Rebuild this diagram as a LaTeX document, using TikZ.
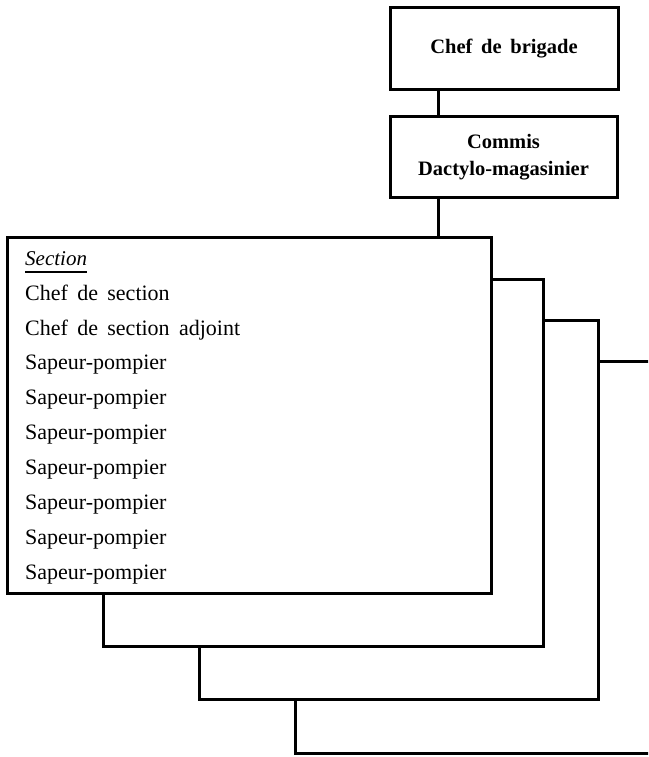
\documentclass[tikz,border=0pt]{standalone}
\usepackage{fontspec}
\setmainfont{Liberation Serif}[WordSpace=1.7]
\begin{document}
\begin{tikzpicture}[x=1pt,y=-1pt,
  box/.style={draw, line width=3pt, fill=white, inner sep=0pt, outer sep=0pt},
  topbox/.style={box, align=center, font=\fontsize{20.5}{27}\selectfont\bfseries},
  item/.style={anchor=base west, inner sep=0pt, font=\fontsize{22}{22}\selectfont},
  conn/.style={line width=3pt}]
\useasboundingbox (0,0) rectangle (648,757);
\clip (0,0) rectangle (648,757);
% stacked section boxes (back to front)
\node[box, minimum width=365pt, minimum height=392pt] (s4) at (477.5,557) {};
\node[box, minimum width=399pt, minimum height=379pt] (s3) at (398.5,509.5) {};
\node[box, minimum width=440pt, minimum height=367pt] (s2) at (323,462.5) {};
\node[box, minimum width=484pt, minimum height=356pt] (s1) at (249,415) {};
% top boxes
\node[topbox, minimum width=228pt, minimum height=82pt] (brig) at (504,49) {Chef de brigade};
\node[topbox, minimum width=227pt, minimum height=80pt] (comm) at (503.5,157) {Commis\\Dactylo-magasinier};
% connectors
\coordinate (cx) at (438,0);
\draw[conn] (brig.south -| cx) -- (comm.north -| cx);
\draw[conn] (comm.south -| cx) -- (s1.north -| cx);
% section list
\node[item, font=\fontsize{21}{21}\selectfont\itshape] (sec) at (25,265) {Section};
\draw[line width=2.5pt] ([yshift=-7pt]sec.base west) -- ([yshift=-7pt]sec.base east);
\node[item] (l1) at (25,300) {Chef de section};
\node[item] (l2) at (25,335) {Chef de section adjoint};
\node[item] (l3) at (25,369) {Sapeur-pompier};
\node[item] (l4) at (25,404) {Sapeur-pompier};
\node[item] (l5) at (25,439) {Sapeur-pompier};
\node[item] (l6) at (25,474) {Sapeur-pompier};
\node[item] (l7) at (25,509) {Sapeur-pompier};
\node[item] (l8) at (25,544) {Sapeur-pompier};
\node[item] (l9) at (25,579) {Sapeur-pompier};
\end{tikzpicture}
\end{document}
